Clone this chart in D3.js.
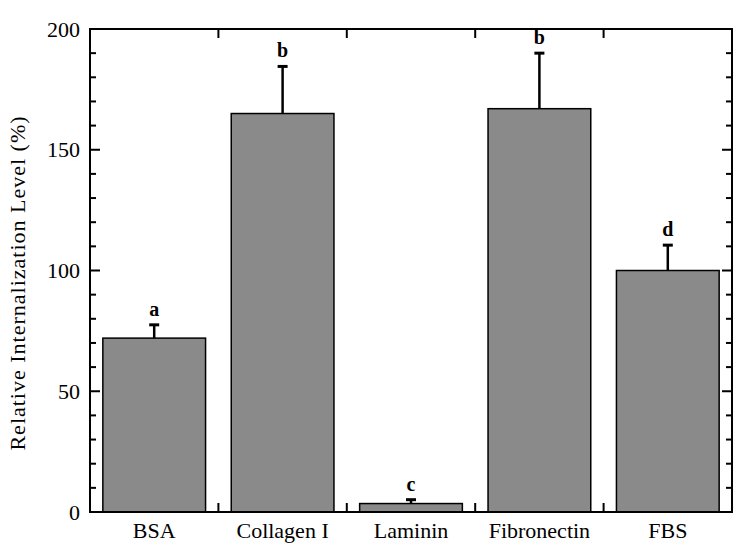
<!DOCTYPE html>
<html>
<head>
<meta charset="utf-8">
<script src="https://cdn.jsdelivr.net/npm/d3@7"></script>
<style>
  body { margin: 0; background: #fff; }
  text { font-family: "Liberation Serif", "Times New Roman", serif; }
</style>
</head>
<body>
<script>
// chart data
var categories = ["BSA", "Collagen I", "Laminin", "Fibronectin", "FBS"];
var values = [72, 165, 3.5, 167, 100];
var errors = [5.5, 19.5, 1.6, 23, 10.5];
var letters = ["a", "b", "c", "b", "d"];
var yTicks = [0, 50, 100, 150, 200];

var svgWidth = 750;
var svgHeight = 558;

var margin = { top: 29, right: 18, bottom: 46, left: 90 };
var chartWidth = svgWidth - margin.left - margin.right;
var chartHeight = svgHeight - margin.top - margin.bottom;

var svg = d3.select("body")
  .append("svg")
  .attr("width", svgWidth)
  .attr("height", svgHeight);

var chartGroup = svg.append("g")
  .attr("transform", `translate(${margin.left}, ${margin.top})`);

var xScale = d3.scaleBand()
  .domain(categories)
  .range([0, chartWidth])
  .paddingInner(0.2)
  .paddingOuter(0.1);

var yScale = d3.scaleLinear()
  .domain([0, 200])
  .range([chartHeight, 0]);

// bars
chartGroup.selectAll(".bar")
  .data(categories)
  .enter()
  .append("rect")
  .attr("x", d => xScale(d))
  .attr("y", (d, i) => yScale(values[i]))
  .attr("width", xScale.bandwidth())
  .attr("height", (d, i) => chartHeight - yScale(values[i]))
  .attr("fill", "#8a8a8a")
  .attr("stroke", "#000")
  .attr("stroke-width", 1.5);

// error bars (upper only)
var errGroup = chartGroup.selectAll(".err")
  .data(categories)
  .enter()
  .append("g");

errGroup.append("line")
  .attr("x1", d => xScale(d) + xScale.bandwidth() / 2)
  .attr("x2", d => xScale(d) + xScale.bandwidth() / 2)
  .attr("y1", (d, i) => yScale(values[i]))
  .attr("y2", (d, i) => yScale(values[i] + errors[i]))
  .attr("stroke", "#000")
  .attr("stroke-width", 2.5);

errGroup.append("line")
  .attr("x1", d => xScale(d) + xScale.bandwidth() / 2 - 5)
  .attr("x2", d => xScale(d) + xScale.bandwidth() / 2 + 5)
  .attr("y1", (d, i) => yScale(values[i] + errors[i]))
  .attr("y2", (d, i) => yScale(values[i] + errors[i]))
  .attr("stroke", "#000")
  .attr("stroke-width", 3);

// significance letters
chartGroup.selectAll(".letter")
  .data(categories)
  .enter()
  .append("text")
  .attr("x", d => xScale(d) + xScale.bandwidth() / 2)
  .attr("y", (d, i) => yScale(values[i] + errors[i]) - 9)
  .attr("text-anchor", "middle")
  .attr("font-size", "20px")
  .attr("font-weight", "bold")
  .text((d, i) => letters[i]);

// frame
chartGroup.append("rect")
  .attr("width", chartWidth)
  .attr("height", chartHeight)
  .attr("fill", "none")
  .attr("stroke", "#000")
  .attr("stroke-width", 2);

// y ticks: major and minor, inward on both sides
var minorTicks = d3.range(0, 201, 10).filter(v => v % 50 !== 0);
[0, chartWidth].forEach(function(xPos, side) {
  var dir = side === 0 ? 1 : -1;
  chartGroup.selectAll(null)
    .data(yTicks)
    .enter()
    .append("line")
    .attr("x1", xPos)
    .attr("x2", xPos + dir * 10)
    .attr("y1", d => yScale(d))
    .attr("y2", d => yScale(d))
    .attr("stroke", "#000")
    .attr("stroke-width", 2);
  chartGroup.selectAll(null)
    .data(minorTicks)
    .enter()
    .append("line")
    .attr("x1", xPos)
    .attr("x2", xPos + dir * 6)
    .attr("y1", d => yScale(d))
    .attr("y2", d => yScale(d))
    .attr("stroke", "#000")
    .attr("stroke-width", 2);
});

// y tick labels
chartGroup.selectAll(".ylab")
  .data(yTicks)
  .enter()
  .append("text")
  .attr("x", -10)
  .attr("y", d => yScale(d))
  .attr("dy", "0.35em")
  .attr("text-anchor", "end")
  .attr("font-size", "22px")
  .text(d => d);

// x separators between categories, top and bottom
var bounds = categories.slice(1).map(d => xScale(d) - xScale.step() * xScale.paddingInner() / 2);
chartGroup.selectAll(null)
  .data(bounds)
  .enter()
  .append("line")
  .attr("x1", d => d).attr("x2", d => d)
  .attr("y1", chartHeight).attr("y2", chartHeight - 9)
  .attr("stroke", "#000").attr("stroke-width", 2);
chartGroup.selectAll(null)
  .data(bounds)
  .enter()
  .append("line")
  .attr("x1", d => d).attr("x2", d => d)
  .attr("y1", 0).attr("y2", 9)
  .attr("stroke", "#000").attr("stroke-width", 2);

// x labels
chartGroup.selectAll(".xlab")
  .data(categories)
  .enter()
  .append("text")
  .attr("x", d => xScale(d) + xScale.bandwidth() / 2)
  .attr("y", chartHeight + 26)
  .attr("text-anchor", "middle")
  .attr("font-size", "22px")
  .text(d => d);

// y axis title
svg.append("text")
  .attr("transform", "translate(25, 283) rotate(-90)")
  .attr("text-anchor", "middle")
  .attr("font-size", "22px")
  .attr("letter-spacing", "1px")
  .text("Relative Internalization Level (%)");
</script>
</body>
</html>
